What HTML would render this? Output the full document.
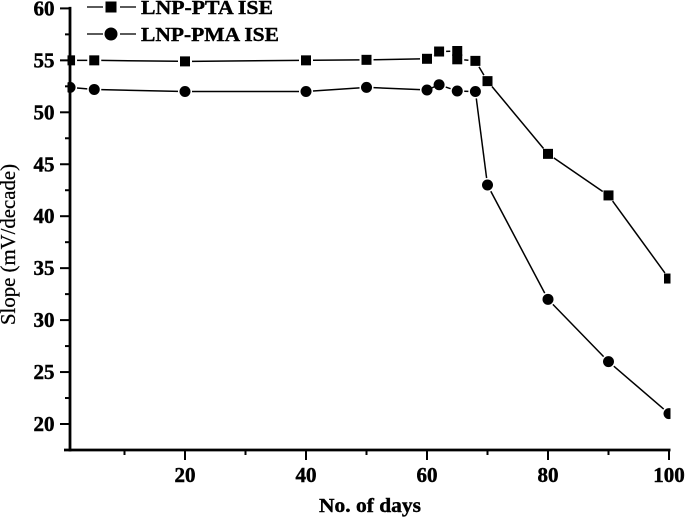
<!DOCTYPE html>
<html>
<head>
<meta charset="utf-8">
<style>
html,body{margin:0;padding:0;background:#fff;width:685px;height:518px;overflow:hidden}
svg{display:block}
text{font-family:"Liberation Serif",serif;fill:#000}
.t{font-weight:bold;font-size:21px;stroke:#000;stroke-width:.45px}
.b{font-weight:bold;font-size:20.5px;stroke:#000;stroke-width:.4px}
</style>
</head>
<body>
<svg id="chart" width="685" height="518" viewBox="0 0 685 518" xmlns="http://www.w3.org/2000/svg">
  <defs><clipPath id="plot-clip"><rect x="67.5" y="0" width="603" height="470"/></clipPath></defs>
  <g id="axes"></g>
  <g id="series" clip-path="url(#plot-clip)"></g>
  <g>
    <line x1="87" x2="103" y1="7" y2="7" stroke="#000" stroke-width="1.3"/>
    <line x1="120" x2="136" y1="7" y2="7" stroke="#000" stroke-width="1.3"/>
    <rect x="105.5" y="1.5" width="11" height="11" fill="#000"/>
    <text class="b" x="141" y="14" textLength="132" lengthAdjust="spacingAndGlyphs">LNP-PTA ISE</text>
    <line x1="87" x2="103" y1="34" y2="34" stroke="#000" stroke-width="1.3"/>
    <line x1="120" x2="136" y1="34" y2="34" stroke="#000" stroke-width="1.3"/>
    <circle cx="111" cy="34" r="6.5" fill="#000"/>
    <text class="b" x="141" y="41" textLength="138" lengthAdjust="spacingAndGlyphs">LNP-PMA ISE</text>
  </g>
  <text transform="translate(15,325) rotate(-90)" font-size="21" stroke="#000" stroke-width="0.25" textLength="161" lengthAdjust="spacingAndGlyphs">Slope (mV/decade)</text>
  <text class="b" x="319" y="512" textLength="102" lengthAdjust="spacingAndGlyphs">No. of days</text>
</svg>
<script>
var xTickLabels = [20, 40, 60, 80, 100];
var xMinorTicks = [10, 30, 50, 70, 90];
var yTickLabels = [20, 25, 30, 35, 40, 45, 50, 55, 60];
var yMinorTicks = [22.5, 27.5, 32.5, 37.5, 42.5, 47.5, 52.5, 57.5];

var ptaDays = [1, 5, 20, 40, 50, 60, 62, 65, 65, 68, 70, 80, 90, 100];
var ptaSlope = [55, 55, 54.9, 55, 55.05, 55.15, 55.85, 55.9, 55.1, 54.95, 53, 46, 42, 34];
var pmaDays = [1, 5, 20, 40, 50, 60, 62, 65, 68, 70, 80, 90, 100];
var pmaSlope = [52.4, 52.2, 52, 52, 52.4, 52.15, 52.65, 52.05, 52, 43, 32, 26, 21];

var NS = 'http://www.w3.org/2000/svg';
function sx(v) { return 185 + (v - 20) * 6.05; }
function sy(v) { return 424 - (v - 20) * 10.39; }

function make(parent, tag, attrs) {
  var el = document.createElementNS(NS, tag);
  for (var k in attrs) el.setAttribute(k, attrs[k]);
  parent.appendChild(el);
  return el;
}

var axes = document.getElementById('axes');
var seriesGroup = document.getElementById('series');

var yAxis = make(axes, 'line', {x1: 70, x2: 70, y1: sy(60) - 1.5, y2: 451.5, stroke: '#000', 'stroke-width': 2.8});


var xAxis = make(axes, 'line', {x1: 64, x2: 670.5, y1: 450, y2: 450, stroke: '#000', 'stroke-width': 2.8});



xTickLabels.forEach(function (v) {
  var t = make(axes, 'line', {x1: sx(v), x2: sx(v), y1: 450, y2: 460, stroke: '#000', 'stroke-width': 2});
  
  
  var l = make(axes, 'text', {x: sx(v), y: 482, 'text-anchor': 'middle', 'class': 't'});
  
  
  l.textContent = v;
});
xMinorTicks.forEach(function (v) {
  var t = make(axes, 'line', {x1: sx(v), x2: sx(v), y1: 450, y2: 455, stroke: '#000', 'stroke-width': 2});
  
  
});
yTickLabels.forEach(function (v) {
  var t = make(axes, 'line', {x1: 60, x2: 70, y1: sy(v), y2: sy(v), stroke: '#000', 'stroke-width': 2});
  
  
  var l = make(axes, 'text', {x: 54.5, y: sy(v) + 7, 'text-anchor': 'end', 'class': 't'});
  
  
  l.textContent = v;
});
yMinorTicks.forEach(function (v) {
  var t = make(axes, 'line', {x1: 65, x2: 70, y1: sy(v), y2: sy(v), stroke: '#000', 'stroke-width': 2});
  
  
});

function drawSeries(days, values, kind) {
  var gap = 7;
  var i;
  for (i = 0; i < days.length - 1; i++) {
    var x1 = sx(days[i]), y1 = sy(values[i]), x2 = sx(days[i + 1]), y2 = sy(values[i + 1]);
    var d = Math.sqrt((x2 - x1) * (x2 - x1) + (y2 - y1) * (y2 - y1));
    if (d === 0) {
      continue;
    }
    var ux = (x2 - x1) / d, uy = (y2 - y1) / d;
    var g = d <= gap * 2 ? d * 0.35 : gap;
    var seg = make(seriesGroup, 'line', {
      x1: x1 + ux * g, y1: y1 + uy * g,
      x2: x2 - ux * g, y2: y2 - uy * g,
      stroke: '#000', 'stroke-width': 1.5
    });
    
    
  }
  for (i = 0; i < days.length; i++) {
    var px = sx(days[i]), py = sy(values[i]), m;
    if (kind === 'pta') {
      m = make(seriesGroup, 'rect', {x: px - 5, y: py - 5, width: 10, height: 10, fill: '#000'});
    } else {
      m = make(seriesGroup, 'circle', {cx: px, cy: py, r: 5.5, fill: '#000'});
    }
    
    
  }
}
drawSeries(ptaDays, ptaSlope, 'pta');
drawSeries(pmaDays, pmaSlope, 'pma');
</script>
</body>
</html>
